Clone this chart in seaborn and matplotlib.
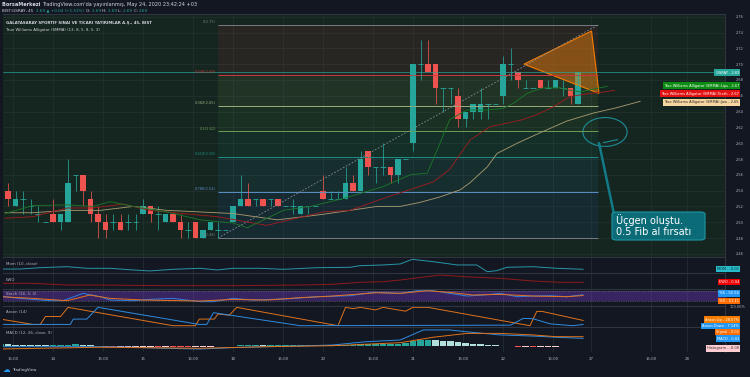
import numpy as np
import pandas as pd
import seaborn as sns
import matplotlib
matplotlib.use("Agg")
from matplotlib import pyplot as plt
from matplotlib.patches import Polygon, Arc, FancyBboxPatch

# 45 dk bar, slot 0 = 14 Mayis 10:00, gunde 12 slot
slot = list(range(-7, 71))
open_ = [2.53, 2.54, 2.52, 2.53, 2.52, 2.51, 2.50,
         2.51, 2.50, 2.50, 2.56, 2.56, 2.53, 2.51, 2.50, 2.50, 2.50, 2.50, 2.50,
         2.51, 2.52, 2.51, 2.50, 2.51, 2.50, 2.49, 2.50, 2.48, 2.49, 2.49, 2.49,
         2.50, 2.52, 2.53, 2.53, 2.53, 2.53, 2.53, 2.52, 2.52, 2.51, 2.52, 2.52,
         2.54, 2.53, 2.53, 2.53, 2.55, 2.54, 2.59, 2.57, 2.57, 2.57, 2.56, 2.58,
         2.60, 2.70, 2.70, 2.70, 2.67, 2.67, 2.66, 2.63, 2.64, 2.64, 2.65, 2.65,
         2.66, 2.70, 2.69, 2.67, 2.67, 2.68, 2.67, 2.67, 2.67, 2.67, 2.65]
high = [2.54, 2.55, 2.54, 2.54, 2.53, 2.52, 2.50,
        2.53, 2.51, 2.58, 2.56, 2.56, 2.54, 2.52, 2.51, 2.51, 2.51, 2.51, 2.51,
        2.53, 2.52, 2.52, 2.51, 2.51, 2.51, 2.50, 2.50, 2.49, 2.50, 2.50, 2.49,
        2.52, 2.56, 2.55, 2.53, 2.53, 2.53, 2.53, 2.52, 2.53, 2.52, 2.52, 2.52,
        2.56, 2.54, 2.54, 2.57, 2.56, 2.59, 2.59, 2.57, 2.60, 2.57, 2.58, 2.58,
        2.70, 2.73, 2.73, 2.70, 2.67, 2.67, 2.67, 2.64, 2.65, 2.67, 2.65, 2.65,
        2.71, 2.72, 2.69, 2.68, 2.67, 2.68, 2.68, 2.68, 2.68, 2.67, 2.69]
low = [2.53, 2.52, 2.52, 2.51, 2.51, 2.50, 2.50,
       2.50, 2.49, 2.50, 2.54, 2.52, 2.50, 2.48, 2.48, 2.49, 2.49, 2.49, 2.49,
       2.51, 2.50, 2.49, 2.50, 2.50, 2.48, 2.48, 2.48, 2.48, 2.49, 2.48, 2.49,
       2.50, 2.52, 2.52, 2.52, 2.52, 2.52, 2.52, 2.52, 2.51, 2.51, 2.51, 2.52,
       2.53, 2.53, 2.53, 2.53, 2.54, 2.54, 2.56, 2.55, 2.56, 2.55, 2.55, 2.58,
       2.59, 2.68, 2.69, 2.65, 2.64, 2.65, 2.62, 2.62, 2.63, 2.63, 2.63, 2.65,
       2.65, 2.68, 2.67, 2.67, 2.67, 2.67, 2.67, 2.67, 2.66, 2.65, 2.65]
close = [2.54, 2.53, 2.53, 2.53, 2.52, 2.51, 2.50,
         2.50, 2.51, 2.55, 2.56, 2.54, 2.51, 2.50, 2.49, 2.50, 2.49, 2.50, 2.50,
         2.52, 2.51, 2.51, 2.51, 2.50, 2.49, 2.49, 2.48, 2.49, 2.50, 2.49, 2.49,
         2.52, 2.53, 2.52, 2.53, 2.52, 2.53, 2.52, 2.52, 2.52, 2.52, 2.52, 2.52,
         2.53, 2.53, 2.53, 2.55, 2.54, 2.58, 2.57, 2.57, 2.57, 2.56, 2.58, 2.58,
         2.70, 2.70, 2.69, 2.67, 2.67, 2.67, 2.63, 2.64, 2.65, 2.65, 2.65, 2.65,
         2.70, 2.70, 2.68, 2.67, 2.67, 2.67, 2.67, 2.68, 2.67, 2.66, 2.69]

# Alligator (SMMA) cizgileri, grafikten okunan noktalar
jaw_x = [-6.4, -2.7, 1.9, 6.3, 10.7, 15.2, 19.6, 24, 29.9, 36, 43.2, 46.3, 48.9, 51.6,
         54.3, 55.6, 57.9, 59.2, 61.9, 64.9, 68.5, 72, 75.2, 78.3]
jaw_y = [2.512, 2.512, 2.515, 2.515, 2.52, 2.515, 2.513, 2.511, 2.503, 2.51, 2.52, 2.52, 2.525, 2.532,
         2.541, 2.55, 2.57, 2.587, 2.60, 2.613, 2.628, 2.638, 2.645, 2.653]
teeth_x = [-6.4, -2.7, 1.9, 5.3, 9.3, 12.9, 17.3, 21.9, 28.5, 31.6, 36, 39.6, 44, 47.2, 50.7,
           52.9, 55.6, 58.3, 62.3, 64.5, 66.7, 68.9, 71.6, 73.6, 74.9]
teeth_y = [2.505, 2.507, 2.518, 2.518, 2.523, 2.515, 2.511, 2.507, 2.496, 2.503, 2.513, 2.515, 2.53, 2.54, 2.551,
           2.567, 2.604, 2.621, 2.629, 2.636, 2.646, 2.659, 2.663, 2.665, 2.667]
lips_x = [-6.4, -2.7, 1.9, 5.3, 7.6, 10.7, 15.2, 19.6, 24, 25.9, 30.7, 34.3, 38.7, 41.9, 44,
          47.6, 49.9, 51.2, 52.9, 55.2, 57.9, 60, 61.3, 63.2, 65.3, 67.6, 68.9, 70.3, 72.9, 73.9]
lips_y = [2.511, 2.521, 2.522, 2.52, 2.526, 2.52, 2.513, 2.503, 2.499, 2.493, 2.515, 2.52, 2.53, 2.539, 2.545,
          2.56, 2.562, 2.591, 2.63, 2.642, 2.642, 2.644, 2.65, 2.663, 2.67, 2.67, 2.667, 2.665, 2.67, 2.672]

# Fibonacci
fib_start, fib_end = 22, 72.7
fib_price = [2.75, 2.686, 2.647, 2.615, 2.583, 2.538, 2.48]
fib_labels = ["0(2.75)", "0.236(2.69)", "0.382(2.65)", "0.5(2.62)", "0.618(2.58)", "0.786(2.54)", "1(2.48)"]
fib_colors = ["#787b86", "#c73a3f", "#9aab7e", "#6c9e57", "#1c9086", "#5b8fc4", "#787b86"]
zone_colors = ["#f23645", "#9ccc65", "#4caf50", "#089981", "#26a3d8", "#2962ff"]

tri_x = [62.8, 71.8, 72.8]
tri_y = [2.700, 2.742, 2.663]

# indikatorler
mom_x = [-7.1, -4.4, -1.7, 1.9, 4.5, 7.6, 10.7, 12.9, 16, 19.6, 21.9, 24, 27.6, 30.7, 35.2, 39.6,
         40.9, 44, 46.3, 47.9, 50.7, 53.9, 56.5, 57.9, 59.2, 60.5, 64, 67.2, 70.7]
mom_y = [-0.016, -0.016, 0.004, 0.019, -0.005, -0.005, -0.03, -0.045, -0.02, -0.005, -0.03, -0.005, -0.005,
         -0.02, 0.004, 0.01, 0.034, 0.045, 0.06, 0.13, 0.094, 0.045, 0.045, -0.056, -0.04, 0.01, 0.019, -0.005, -0.02]
ewo_x = [-7.1, -2.7, 1.9, 6.3, 15.2, 24, 32.9, 37.3, 41, 44, 46.3, 51.6, 55.2, 59.6, 64, 67.6, 70.7]
ewo_y = [0.029, 0.029, 0.010, 0.010, 0.003, 0.003, 0.010, 0.018, 0.040, 0.047, 0.065, 0.12, 0.10, 0.084,
         0.054, 0.040, 0.040]
k_x = [-7.1, -4.4, -0.4, 1.3, 4, 6.3, 7.6, 10.7, 12.9, 16, 19.6, 21.4, 24, 26.7, 30.7, 35.2, 39.6, 42.7,
       46.3, 48.5, 50.7, 52.9, 55.2, 57.3, 59.6, 61.9, 64, 66.3, 68.5, 70.7]
k_y = [48, 34, 20, 20, 64, 44, 24, 20, 28, 34, 14, 14, 34, 24, 30, 44, 50, 70,
       64, 80, 80, 64, 48, 54, 64, 44, 48, 50, 44, 55.6]
d_x = [-7.1, -2.7, 1.9, 4.9, 7.6, 12, 19.6, 24, 28.5, 32.9, 37.3, 43.2, 46.3, 49.9, 52.9, 56, 59.6, 64,
       68.5, 70.7]
d_y = [44, 34, 20, 54, 34, 24, 18, 28, 24, 38, 48, 68, 64, 80, 70, 54, 58, 48, 44, 51.1]
up_x = [-7, -2.7, -1.7, -1, 1, 2, 16, 19, 19.5, 21.5, 22, 23.5, 24.5, 38, 39, 40, 41, 42, 43, 44, 45, 46,
        47, 48, 50, 63.6, 64.5, 65.2, 70.7]
up_y = [36, 7, 7, 50, 50, 100, 0, 0, 36, 36, 64, 57, 100, 0, 100, 93, 100, 93, 86, 100, 93, 86,
        79, 100, 100, 0, 78, 78, 28.6]
dn_x = [-7, 2.3, 2.7, 4.5, 6, 19.5, 20.5, 21.4, 33, 61, 62.7, 64, 66.3, 69.3, 70.7]
dn_y = [7, 7, 36, 36, 100, 7, 7, 71, 0, 3, 40, 38, 10, 0, 7.1]
macd_x = [-7.1, 6.3, 10.7, 15.2, 19.6, 24, 28.5, 32.9, 37.3, 41.8, 46.3, 49.4, 52.9, 55.2, 59.6, 64, 67.1, 70.7]
macd_y = [-0.0026, -0.0026, -0.004, -0.0068, -0.0086, -0.005, -0.0026, -0.0008, 0.0018, 0.0104, 0.0148,
          0.041, 0.041, 0.036, 0.028, 0.025, 0.022, 0.019]
sig_x = [-7.1, 6.3, 19.6, 28.5, 37.3, 46.3, 50.7, 55.2, 59.6, 64, 67.1, 70.7]
sig_y = [-0.0086, -0.004, -0.0068, -0.0026, 0.0, 0.0078, 0.022, 0.032, 0.032, 0.028, 0.0234, 0.0234]
hist = [4, 3.5, 3, 2.5, 2, 1.5, 1,
        1, 1.5, 3, 4, 3, 1.5, -1, -2.5, -3.5, -3.5, -3, -3,
        -2.5, -2.5, -3, -3, -3.5, -4, -4.5, -4.5, -3.5, -2.5, -2, -1.5,
        -0.5, 0.5, 1, 1.2, 1, 1, 1.2, 1.5, 1.5, 1.8, 1.8, 2,
        2.5, 2.2, 2, 3, 3, 4, 4, 4, 4.5, 5, 5, 6,
        12, 15, 15, 14, 13, 11, 9, 7, 5, 4, 2.5, 1,
        -1, -2, -3, -3, -3.5, -3, -3, -2.5, -2, -2, -1]

tick_pos = [-5.33, 0, 6.67, 12, 18.67, 24, 30.67, 36, 42.67, 48, 54.67, 60, 66.67, 71.73, 79.73, 84.5]
tick_lab = ["15:00", "14", "15:00", "15", "15:00", "18", "15:00", "20", "15:00", "21", "15:00", "22",
            "15:00", "27", "15:00", "28"]
price_ticks = [2.46, 2.48, 2.50, 2.52, 2.54, 2.56, 2.58, 2.60, 2.62, 2.64, 2.66, 2.68, 2.70, 2.72, 2.74, 2.76]

BG = "#131722"
MAIN_BG = "#15251f"
GRID = "#24332f"
SEP = "#2f3441"
TXT = "#b2b5be"
UP, DOWN = "#26a69a", "#ef5350"

sns.set_theme(style="dark", rc={"figure.facecolor": BG, "axes.facecolor": BG, "text.color": TXT,
                                "xtick.color": TXT, "ytick.color": TXT})
plt.rcParams["font.family"] = ["DejaVu Sans"]

W, H = 750, 377
fig = plt.figure(figsize=(7.5, 3.77), dpi=100)
XL = ((3 - 53) / 7.5, (725 - 53) / 7.5)


def pane(y0, y1, fc=BG):
    ax = fig.add_axes([3 / W, 1 - y1 / H, 722 / W, (y1 - y0) / H])
    ax.set_facecolor(fc)
    ax.set_xlim(XL)
    ax.set_xticks(tick_pos)
    ax.tick_params(axis="x", length=0, labelbottom=False)
    ax.tick_params(axis="y", length=0, labelleft=False, labelright=False)
    ax.grid(axis="x", color=GRID, lw=0.5)
    for k, sp in ax.spines.items():
        sp.set_visible(k in ("top", "right"))
        sp.set_color(SEP)
        sp.set_linewidth(0.8)
    return ax


def ftext(x, y, s, **kw):
    return fig.text(x / W, 1 - y / H, s, **kw)


def vbox(y, s, fc, tc="white"):
    ftext(739, y, s, ha="right", va="center", fontsize=2.6, color=tc,
          bbox=dict(boxstyle="square,pad=0.3", fc=fc, ec="none"))


# ---------------- ana grafik
ax = pane(14, 257.3, MAIN_BG)
ax.set_ylim(2.4556, 2.7635)
ax.set_yticks(price_ticks)
ax.set_yticklabels([f"{p:.2f}" for p in price_ticks])
ax.grid(axis="y", color=GRID, lw=0.5)
ax.tick_params(axis="y", labelright=True, labelsize=2.5, pad=7.5, colors=TXT)

for i in range(6):
    ax.fill_between([fib_start, fib_end], fib_price[i + 1], fib_price[i], color=zone_colors[i],
                    alpha=0.085, lw=0)
for p, lab, c in zip(fib_price, fib_labels, fib_colors):
    ax.hlines(p, fib_start, fib_end, color=c, lw=0.7)
    ax.text(fib_start - 0.3, p + 0.001, lab, ha="right", va="bottom", fontsize=2.6, color=c)
ax.plot([fib_start, fib_end], [fib_price[-1], fib_price[0]], color="#8a8e98", lw=0.6, ls=(0, (2, 2)))

ax.axhline(close[-1], color=UP, lw=0.6, alpha=0.8)

df = pd.DataFrame(dict(slot=slot, open=open_, high=high, low=low, close=close))
df["col"] = np.where(df.close >= df.open, UP, DOWN)
ax.vlines(df.slot, df.low, df.high, color=df.col, lw=0.55)
body = df[df.close != df.open]
ax.bar(body.slot, body.close - body.open, bottom=body.open, width=0.7, color=body.col, lw=0)
doji = df[df.close == df.open]
ax.hlines(doji.close, doji.slot - 0.35, doji.slot + 0.35, color=UP, lw=0.6)

sns.lineplot(x=jaw_x, y=jaw_y, ax=ax, color="#a3966e", lw=0.65)
sns.lineplot(x=teeth_x, y=teeth_y, ax=ax, color="#9c1d20", lw=0.65)
sns.lineplot(x=lips_x, y=lips_y, ax=ax, color="#1b7429", lw=0.65)

ax.add_patch(Polygon(list(zip(tri_x, tri_y)), closed=True, fc="#e07a10", alpha=0.5, ec="none"))
ax.add_patch(Polygon(list(zip(tri_x, tri_y)), closed=True, fc="none", ec="#f57c00", lw=0.8))

ax.add_patch(Arc((73.6, 2.6142), 5.9, 0.0365, theta1=235, theta2=200, color="#1f8d99", lw=0.8))
ax.plot([73.4, 75.3], [2.6008, 2.6045], color="#1f8d99", lw=0.8)
ax.plot([72.8, 74.8], [2.6003, 2.5104], color="#127b87", lw=1.8, solid_capstyle="round")
ax.set_xlabel("")
ax.set_ylabel("")

# ---------------- Mom
a1 = pane(257.3, 273.3)
a1.set_ylim(-0.08, 0.16)
sns.lineplot(x=mom_x, y=mom_y, ax=a1, color="#2896a6", lw=0.7)

# ---------------- EWO
a2 = pane(273.3, 289.3)
a2.set_ylim(-0.037, 0.139)
sns.lineplot(x=ewo_x, y=ewo_y, ax=a2, color="#8e1a1a", lw=0.7)

# ---------------- Stoch
a3 = pane(289.3, 305.7)
a3.set_ylim(-10, 88.4)
a3.axhspan(20, 80, color="#7a3cd0", alpha=0.36, lw=0)
a3.axhline(80, color="#787b86", lw=0.4, ls=(0, (2, 2)))
a3.axhline(20, color="#787b86", lw=0.4, ls=(0, (2, 2)))
sns.lineplot(x=k_x, y=k_y, ax=a3, color="#2f7fe0", lw=0.7)
sns.lineplot(x=d_x, y=d_y, ax=a3, color="#e8731c", lw=0.7)

# ---------------- Aroon
a4 = pane(305.7, 327.3)
a4.set_ylim(-8.7, 109)
sns.lineplot(x=up_x, y=up_y, ax=a4, color="#e0731a", lw=0.7)
sns.lineplot(x=dn_x, y=dn_y, ax=a4, color="#2f8ce0", lw=0.7)

# ---------------- MACD
a5 = pane(327.3, 352)
a5.set_ylim(-0.0164, 0.0478)
hv = np.array(hist) / 1000.0
prev = np.concatenate([[hv[0]], hv[:-1]])
hcol = np.where(hv >= 0, np.where(hv >= prev, "#26a69a", "#b2dfdb"),
                np.where(hv < prev, "#ff5252", "#ffcdd2"))
a5.bar(slot, hv, width=0.92, color=hcol, lw=0)
sns.lineplot(x=macd_x, y=macd_y, ax=a5, color="#2f8ce0", lw=0.7)
sns.lineplot(x=sig_x, y=sig_y, ax=a5, color="#e0731a", lw=0.7)
a5.set_xticklabels(tick_lab)
a5.tick_params(axis="x", labelbottom=True, labelsize=2.8, pad=3.5, colors=TXT)

for a in (a1, a2, a3, a4, a5):
    a.set_xlabel("")
    a.set_ylabel("")
    a.set_yticks([])

# ---------------- metinler
renderer = fig.canvas.get_renderer()


def seq(x, y, pieces, size):
    for s, c, w in pieces:
        t = ftext(x, y, s, color=c, fontsize=size, fontweight=w, va="center")
        x += t.get_window_extent(renderer).width


WH = "#d1d4dc"
seq(2, 4.5, [("BorsaMerkezi ", WH, "bold"),
             ("TradingView.com'da yayınlanmış, May 24, 2020 23:42:24 +03", WH, "normal")], 3.6)
seq(2, 11, [("BIST:GSRAY, 45  ", WH, "normal"), ("2.69 ▲ +0.04 (+1.51%)  ", UP, "normal"),
            ("O: ", WH, "normal"), ("2.69 ", UP, "normal"), ("H: ", WH, "normal"), ("2.69 ", UP, "normal"),
            ("L: ", WH, "normal"), ("2.69 ", UP, "normal"), ("C: ", WH, "normal"), ("2.69", UP, "normal")], 3.0)
ftext(6, 23, "GALATASARAY SPORTIF SINAI VE TICARI YATIRIMLAR A.Ş., 45, BIST", fontsize=2.8, color=WH,
      va="center", fontweight="bold")
ftext(6, 30, "True Williams Alligator (SMMA) (13, 8, 5, 8, 5, 3)", fontsize=2.8, color=WH, va="center")

for y, s in [(264, "Mom (10, close)"), (280, "EWO"), (294, "Stoch (14, 3, 3)"), (312, "Aroon (14)"),
             (333, "MACD (12, 26, close, 9)")]:
    ftext(6, y, s, fontsize=2.8, color=TXT, va="center")

vbox(72.5, "GSRAY - 2.69", UP)
vbox(85.5, "True Williams Alligator (SMMA):Lips - 2.67", "#0c8c12")
vbox(93.5, "True Williams Alligator (SMMA):Teeth - 2.67", "#e31212")
vbox(102.5, "True Williams Alligator (SMMA):Jaw - 2.65", "#f7d6a0", "#2a2a2a")
vbox(269, "MOM - -0.01", "#26bccb", "#0d2b30")
vbox(282, "EWO - 0.04", "#f00000")
vbox(293.5, "%K - 55.56", "#2196f3")
vbox(301, "%D - 51.11", "#ff6d00")
ftext(737, 306.5, "100.00%", fontsize=2.5, color=TXT, ha="center", va="center")
vbox(319.5, "Aroon Up - 28.57%", "#f57c00")
vbox(326.3, "Aroon Down - 7.14%", "#2196f3")
vbox(332, "Signal - 0.02", "#ff6d00")
vbox(338.5, "MACD - 0.02", "#2196f3")
vbox(348.5, "Histogram - -0.00", "#ffcdd2", "#2a2a2a")

fig.add_artist(FancyBboxPatch((612 / W, 1 - 240 / H), 93 / W, 28 / H, boxstyle="round,pad=0,rounding_size=0.006",
                              transform=fig.transFigure, fc="#0b6c78", ec="#1d97a3", lw=0.8))
ftext(616, 220, "Üçgen oluştu.", fontsize=7, color="white", va="center")
ftext(616, 232, "0.5 Fib al fırsatı", fontsize=7, color="white", va="center")

ftext(3, 370, "☁", fontsize=5.5, color="#2196f3", va="center")
ftext(12, 370, "TradingView", fontsize=2.9, color=WH, va="center")

fig.savefig("out.png", dpi=100, facecolor=BG)
